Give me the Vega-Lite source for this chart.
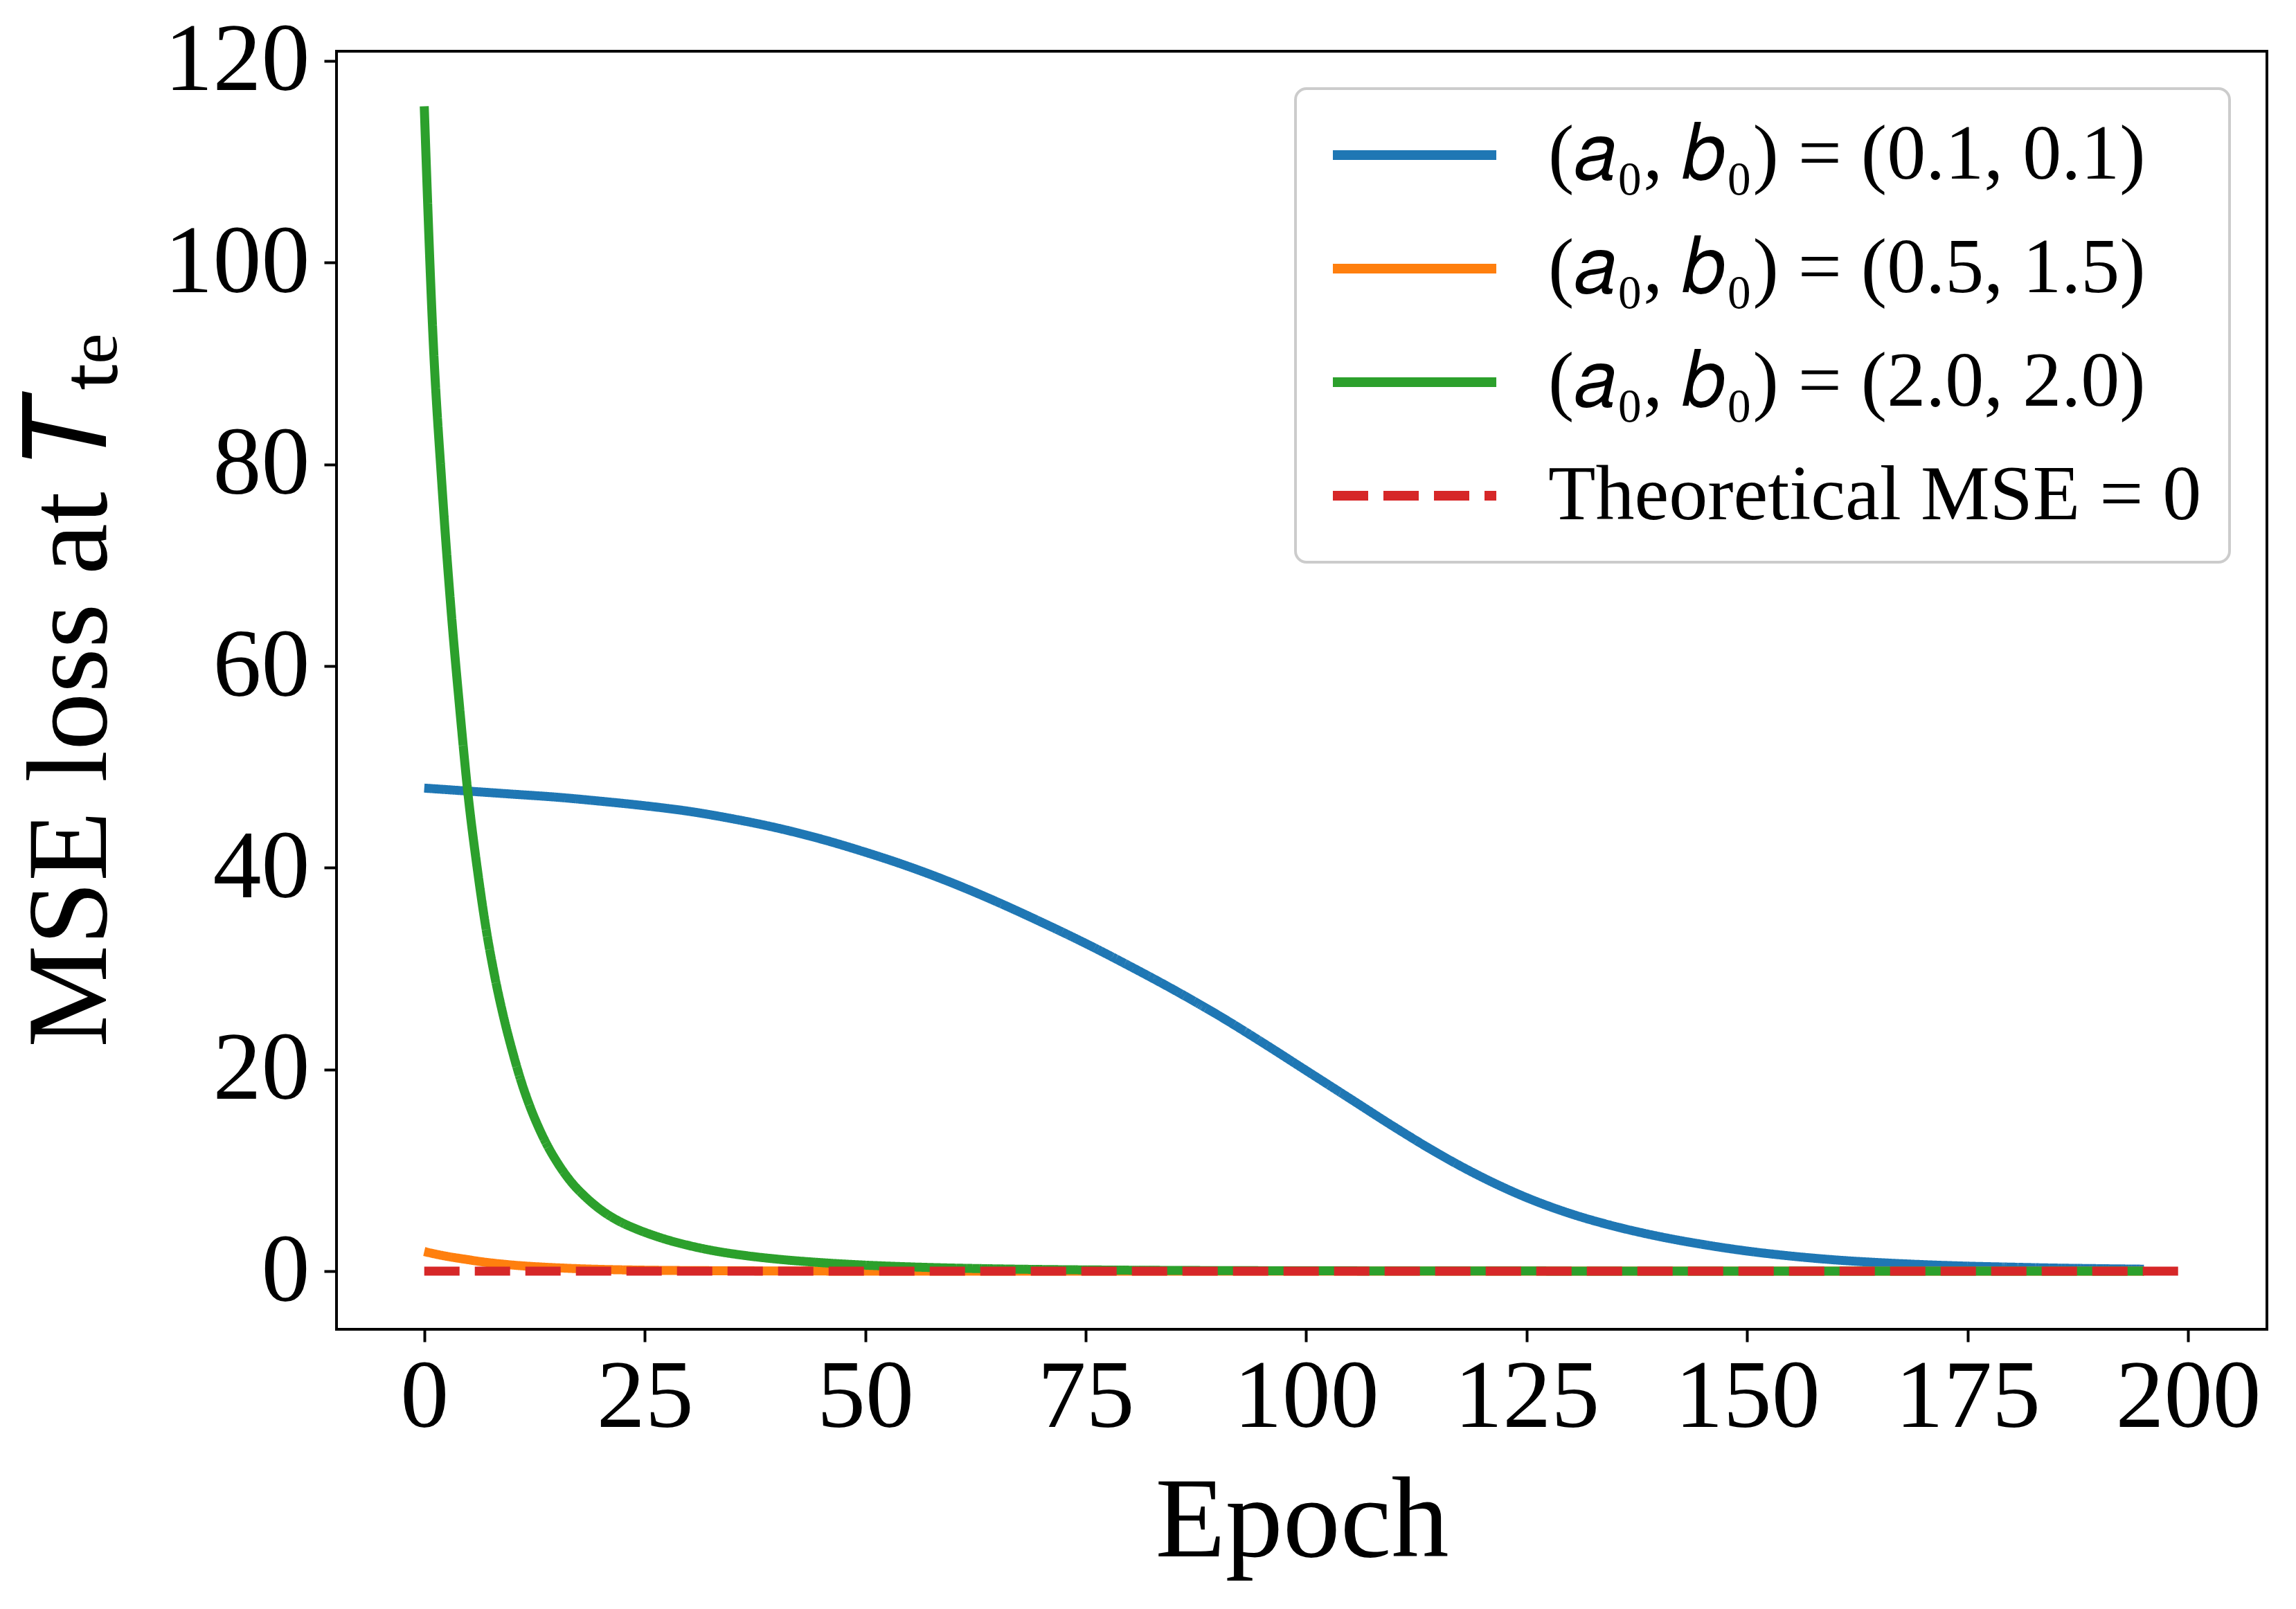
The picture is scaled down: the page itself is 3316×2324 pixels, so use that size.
{
  "$schema": "https://vega.github.io/schema/vega-lite/v6.json",
  "width": 2788,
  "height": 1846,
  "autosize": "none",
  "padding": {"left": 486, "top": 74, "right": 42, "bottom": 404},
  "background": "white",
  "data": {
    "values": [
      {"epoch": 0, "mse": 47.9, "series": "(𝑎₀, 𝑏₀) = (0.1, 0.1)"},
      {"epoch": 5, "mse": 47.6, "series": "(𝑎₀, 𝑏₀) = (0.1, 0.1)"},
      {"epoch": 10, "mse": 47.3, "series": "(𝑎₀, 𝑏₀) = (0.1, 0.1)"},
      {"epoch": 15, "mse": 47.0, "series": "(𝑎₀, 𝑏₀) = (0.1, 0.1)"},
      {"epoch": 20, "mse": 46.6, "series": "(𝑎₀, 𝑏₀) = (0.1, 0.1)"},
      {"epoch": 25, "mse": 46.15, "series": "(𝑎₀, 𝑏₀) = (0.1, 0.1)"},
      {"epoch": 30, "mse": 45.6, "series": "(𝑎₀, 𝑏₀) = (0.1, 0.1)"},
      {"epoch": 35, "mse": 44.85, "series": "(𝑎₀, 𝑏₀) = (0.1, 0.1)"},
      {"epoch": 40, "mse": 43.95, "series": "(𝑎₀, 𝑏₀) = (0.1, 0.1)"},
      {"epoch": 45, "mse": 42.85, "series": "(𝑎₀, 𝑏₀) = (0.1, 0.1)"},
      {"epoch": 50, "mse": 41.55, "series": "(𝑎₀, 𝑏₀) = (0.1, 0.1)"},
      {"epoch": 55, "mse": 40.1, "series": "(𝑎₀, 𝑏₀) = (0.1, 0.1)"},
      {"epoch": 60, "mse": 38.45, "series": "(𝑎₀, 𝑏₀) = (0.1, 0.1)"},
      {"epoch": 65, "mse": 36.6, "series": "(𝑎₀, 𝑏₀) = (0.1, 0.1)"},
      {"epoch": 70, "mse": 34.6, "series": "(𝑎₀, 𝑏₀) = (0.1, 0.1)"},
      {"epoch": 75, "mse": 32.5, "series": "(𝑎₀, 𝑏₀) = (0.1, 0.1)"},
      {"epoch": 80, "mse": 30.25, "series": "(𝑎₀, 𝑏₀) = (0.1, 0.1)"},
      {"epoch": 85, "mse": 27.9, "series": "(𝑎₀, 𝑏₀) = (0.1, 0.1)"},
      {"epoch": 90, "mse": 25.4, "series": "(𝑎₀, 𝑏₀) = (0.1, 0.1)"},
      {"epoch": 95, "mse": 22.7, "series": "(𝑎₀, 𝑏₀) = (0.1, 0.1)"},
      {"epoch": 100, "mse": 19.9, "series": "(𝑎₀, 𝑏₀) = (0.1, 0.1)"},
      {"epoch": 105, "mse": 17.1, "series": "(𝑎₀, 𝑏₀) = (0.1, 0.1)"},
      {"epoch": 110, "mse": 14.3, "series": "(𝑎₀, 𝑏₀) = (0.1, 0.1)"},
      {"epoch": 115, "mse": 11.65, "series": "(𝑎₀, 𝑏₀) = (0.1, 0.1)"},
      {"epoch": 120, "mse": 9.3, "series": "(𝑎₀, 𝑏₀) = (0.1, 0.1)"},
      {"epoch": 125, "mse": 7.3, "series": "(𝑎₀, 𝑏₀) = (0.1, 0.1)"},
      {"epoch": 130, "mse": 5.7, "series": "(𝑎₀, 𝑏₀) = (0.1, 0.1)"},
      {"epoch": 135, "mse": 4.45, "series": "(𝑎₀, 𝑏₀) = (0.1, 0.1)"},
      {"epoch": 140, "mse": 3.45, "series": "(𝑎₀, 𝑏₀) = (0.1, 0.1)"},
      {"epoch": 145, "mse": 2.65, "series": "(𝑎₀, 𝑏₀) = (0.1, 0.1)"},
      {"epoch": 150, "mse": 2.0, "series": "(𝑎₀, 𝑏₀) = (0.1, 0.1)"},
      {"epoch": 155, "mse": 1.5, "series": "(𝑎₀, 𝑏₀) = (0.1, 0.1)"},
      {"epoch": 160, "mse": 1.12, "series": "(𝑎₀, 𝑏₀) = (0.1, 0.1)"},
      {"epoch": 165, "mse": 0.85, "series": "(𝑎₀, 𝑏₀) = (0.1, 0.1)"},
      {"epoch": 170, "mse": 0.65, "series": "(𝑎₀, 𝑏₀) = (0.1, 0.1)"},
      {"epoch": 175, "mse": 0.5, "series": "(𝑎₀, 𝑏₀) = (0.1, 0.1)"},
      {"epoch": 180, "mse": 0.4, "series": "(𝑎₀, 𝑏₀) = (0.1, 0.1)"},
      {"epoch": 185, "mse": 0.31, "series": "(𝑎₀, 𝑏₀) = (0.1, 0.1)"},
      {"epoch": 190, "mse": 0.25, "series": "(𝑎₀, 𝑏₀) = (0.1, 0.1)"},
      {"epoch": 195, "mse": 0.2, "series": "(𝑎₀, 𝑏₀) = (0.1, 0.1)"},

      {"epoch": 0, "mse": 1.95, "series": "(𝑎₀, 𝑏₀) = (0.5, 1.5)"},
      {"epoch": 1, "mse": 1.75, "series": "(𝑎₀, 𝑏₀) = (0.5, 1.5)"},
      {"epoch": 2, "mse": 1.57, "series": "(𝑎₀, 𝑏₀) = (0.5, 1.5)"},
      {"epoch": 3, "mse": 1.41, "series": "(𝑎₀, 𝑏₀) = (0.5, 1.5)"},
      {"epoch": 4, "mse": 1.27, "series": "(𝑎₀, 𝑏₀) = (0.5, 1.5)"},
      {"epoch": 5, "mse": 1.14, "series": "(𝑎₀, 𝑏₀) = (0.5, 1.5)"},
      {"epoch": 6, "mse": 1.0, "series": "(𝑎₀, 𝑏₀) = (0.5, 1.5)"},
      {"epoch": 7, "mse": 0.88, "series": "(𝑎₀, 𝑏₀) = (0.5, 1.5)"},
      {"epoch": 8, "mse": 0.78, "series": "(𝑎₀, 𝑏₀) = (0.5, 1.5)"},
      {"epoch": 9, "mse": 0.69, "series": "(𝑎₀, 𝑏₀) = (0.5, 1.5)"},
      {"epoch": 10, "mse": 0.61, "series": "(𝑎₀, 𝑏₀) = (0.5, 1.5)"},
      {"epoch": 12, "mse": 0.48, "series": "(𝑎₀, 𝑏₀) = (0.5, 1.5)"},
      {"epoch": 14, "mse": 0.38, "series": "(𝑎₀, 𝑏₀) = (0.5, 1.5)"},
      {"epoch": 16, "mse": 0.3, "series": "(𝑎₀, 𝑏₀) = (0.5, 1.5)"},
      {"epoch": 18, "mse": 0.23, "series": "(𝑎₀, 𝑏₀) = (0.5, 1.5)"},
      {"epoch": 20, "mse": 0.18, "series": "(𝑎₀, 𝑏₀) = (0.5, 1.5)"},
      {"epoch": 25, "mse": 0.1, "series": "(𝑎₀, 𝑏₀) = (0.5, 1.5)"},
      {"epoch": 30, "mse": 0.06, "series": "(𝑎₀, 𝑏₀) = (0.5, 1.5)"},
      {"epoch": 35, "mse": 0.04, "series": "(𝑎₀, 𝑏₀) = (0.5, 1.5)"},
      {"epoch": 40, "mse": 0.025, "series": "(𝑎₀, 𝑏₀) = (0.5, 1.5)"},
      {"epoch": 50, "mse": 0.01, "series": "(𝑎₀, 𝑏₀) = (0.5, 1.5)"},
      {"epoch": 60, "mse": 0.005, "series": "(𝑎₀, 𝑏₀) = (0.5, 1.5)"},
      {"epoch": 80, "mse": 0, "series": "(𝑎₀, 𝑏₀) = (0.5, 1.5)"},
      {"epoch": 100, "mse": 0, "series": "(𝑎₀, 𝑏₀) = (0.5, 1.5)"},
      {"epoch": 125, "mse": 0, "series": "(𝑎₀, 𝑏₀) = (0.5, 1.5)"},
      {"epoch": 150, "mse": 0, "series": "(𝑎₀, 𝑏₀) = (0.5, 1.5)"},
      {"epoch": 175, "mse": 0, "series": "(𝑎₀, 𝑏₀) = (0.5, 1.5)"},
      {"epoch": 195, "mse": 0, "series": "(𝑎₀, 𝑏₀) = (0.5, 1.5)"},

      {"epoch": 0, "mse": 115.5, "series": "(𝑎₀, 𝑏₀) = (2.0, 2.0)"},
      {"epoch": 1, "mse": 92.5, "series": "(𝑎₀, 𝑏₀) = (2.0, 2.0)"},
      {"epoch": 2, "mse": 78.0, "series": "(𝑎₀, 𝑏₀) = (2.0, 2.0)"},
      {"epoch": 3, "mse": 66.0, "series": "(𝑎₀, 𝑏₀) = (2.0, 2.0)"},
      {"epoch": 4, "mse": 56.0, "series": "(𝑎₀, 𝑏₀) = (2.0, 2.0)"},
      {"epoch": 5, "mse": 47.0, "series": "(𝑎₀, 𝑏₀) = (2.0, 2.0)"},
      {"epoch": 6, "mse": 40.0, "series": "(𝑎₀, 𝑏₀) = (2.0, 2.0)"},
      {"epoch": 7, "mse": 34.0, "series": "(𝑎₀, 𝑏₀) = (2.0, 2.0)"},
      {"epoch": 8, "mse": 29.2, "series": "(𝑎₀, 𝑏₀) = (2.0, 2.0)"},
      {"epoch": 9, "mse": 25.2, "series": "(𝑎₀, 𝑏₀) = (2.0, 2.0)"},
      {"epoch": 10, "mse": 21.8, "series": "(𝑎₀, 𝑏₀) = (2.0, 2.0)"},
      {"epoch": 11, "mse": 18.8, "series": "(𝑎₀, 𝑏₀) = (2.0, 2.0)"},
      {"epoch": 12, "mse": 16.3, "series": "(𝑎₀, 𝑏₀) = (2.0, 2.0)"},
      {"epoch": 13, "mse": 14.2, "series": "(𝑎₀, 𝑏₀) = (2.0, 2.0)"},
      {"epoch": 14, "mse": 12.4, "series": "(𝑎₀, 𝑏₀) = (2.0, 2.0)"},
      {"epoch": 15, "mse": 10.9, "series": "(𝑎₀, 𝑏₀) = (2.0, 2.0)"},
      {"epoch": 16, "mse": 9.6, "series": "(𝑎₀, 𝑏₀) = (2.0, 2.0)"},
      {"epoch": 17, "mse": 8.5, "series": "(𝑎₀, 𝑏₀) = (2.0, 2.0)"},
      {"epoch": 18, "mse": 7.6, "series": "(𝑎₀, 𝑏₀) = (2.0, 2.0)"},
      {"epoch": 19, "mse": 6.8, "series": "(𝑎₀, 𝑏₀) = (2.0, 2.0)"},
      {"epoch": 20, "mse": 6.1, "series": "(𝑎₀, 𝑏₀) = (2.0, 2.0)"},
      {"epoch": 22, "mse": 5.0, "series": "(𝑎₀, 𝑏₀) = (2.0, 2.0)"},
      {"epoch": 24, "mse": 4.2, "series": "(𝑎₀, 𝑏₀) = (2.0, 2.0)"},
      {"epoch": 26, "mse": 3.55, "series": "(𝑎₀, 𝑏₀) = (2.0, 2.0)"},
      {"epoch": 28, "mse": 3.0, "series": "(𝑎₀, 𝑏₀) = (2.0, 2.0)"},
      {"epoch": 30, "mse": 2.55, "series": "(𝑎₀, 𝑏₀) = (2.0, 2.0)"},
      {"epoch": 33, "mse": 2.0, "series": "(𝑎₀, 𝑏₀) = (2.0, 2.0)"},
      {"epoch": 36, "mse": 1.6, "series": "(𝑎₀, 𝑏₀) = (2.0, 2.0)"},
      {"epoch": 40, "mse": 1.2, "series": "(𝑎₀, 𝑏₀) = (2.0, 2.0)"},
      {"epoch": 45, "mse": 0.85, "series": "(𝑎₀, 𝑏₀) = (2.0, 2.0)"},
      {"epoch": 50, "mse": 0.6, "series": "(𝑎₀, 𝑏₀) = (2.0, 2.0)"},
      {"epoch": 55, "mse": 0.43, "series": "(𝑎₀, 𝑏₀) = (2.0, 2.0)"},
      {"epoch": 60, "mse": 0.31, "series": "(𝑎₀, 𝑏₀) = (2.0, 2.0)"},
      {"epoch": 65, "mse": 0.23, "series": "(𝑎₀, 𝑏₀) = (2.0, 2.0)"},
      {"epoch": 70, "mse": 0.17, "series": "(𝑎₀, 𝑏₀) = (2.0, 2.0)"},
      {"epoch": 80, "mse": 0.1, "series": "(𝑎₀, 𝑏₀) = (2.0, 2.0)"},
      {"epoch": 90, "mse": 0.06, "series": "(𝑎₀, 𝑏₀) = (2.0, 2.0)"},
      {"epoch": 100, "mse": 0.04, "series": "(𝑎₀, 𝑏₀) = (2.0, 2.0)"},
      {"epoch": 120, "mse": 0.02, "series": "(𝑎₀, 𝑏₀) = (2.0, 2.0)"},
      {"epoch": 140, "mse": 0.01, "series": "(𝑎₀, 𝑏₀) = (2.0, 2.0)"},
      {"epoch": 160, "mse": 0.01, "series": "(𝑎₀, 𝑏₀) = (2.0, 2.0)"},
      {"epoch": 180, "mse": 0.005, "series": "(𝑎₀, 𝑏₀) = (2.0, 2.0)"},
      {"epoch": 195, "mse": 0, "series": "(𝑎₀, 𝑏₀) = (2.0, 2.0)"},

      {"epoch": 0, "mse": 0, "series": "Theoretical MSE = 0"},
      {"epoch": 199, "mse": 0, "series": "Theoretical MSE = 0"}
    ]
  },
  "mark": {"type": "line", "strokeWidth": 13, "interpolate": "monotone", "clip": true},
  "encoding": {
    "x": {
      "field": "epoch",
      "type": "quantitative",
      "title": "Epoch",
      "scale": {"domain": [-9.95, 208.95], "nice": false, "zero": false},
      "axis": {"values": [0, 25, 50, 75, 100, 125, 150, 175, 200], "labelPadding": 11, "titlePadding": 28}
    },
    "y": {
      "field": "mse",
      "type": "quantitative",
      "title": "MSE loss at 𝑇ₜₑ",
      "scale": {"domain": [-5.76, 120.96], "nice": false, "zero": false},
      "axis": {"values": [0, 20, 40, 60, 80, 100, 120], "labelPadding": 21, "titlePadding": 99}
    },
    "color": {
      "field": "series",
      "type": "nominal",
      "scale": {
        "domain": ["(𝑎₀, 𝑏₀) = (0.1, 0.1)", "(𝑎₀, 𝑏₀) = (0.5, 1.5)", "(𝑎₀, 𝑏₀) = (2.0, 2.0)", "Theoretical MSE = 0"],
        "range": ["#1f77b4", "#ff7f0e", "#2ca02c", "#d62728"]
      },
      "legend": {"title": null}
    },
    "strokeDash": {
      "field": "series",
      "type": "nominal",
      "scale": {
        "domain": ["(𝑎₀, 𝑏₀) = (0.1, 0.1)", "(𝑎₀, 𝑏₀) = (0.5, 1.5)", "(𝑎₀, 𝑏₀) = (2.0, 2.0)", "Theoretical MSE = 0"],
        "range": [[1, 0], [1, 0], [1, 0], [51, 22]]
      },
      "legend": {"title": null}
    }
  },
  "config": {
    "font": "Liberation Serif",
    "view": {"stroke": "black", "strokeWidth": 4},
    "axis": {
      "grid": false,
      "domain": false,
      "ticks": true,
      "tickColor": "black",
      "tickWidth": 4,
      "tickSize": 18,
      "labelFont": "Liberation Serif",
      "labelFontSize": 140,
      "labelColor": "black",
      "labelLimit": 1000,
      "titleFont": "Liberation Serif",
      "titleFontSize": 166,
      "titleFontWeight": "normal",
      "titleColor": "black",
      "titleLimit": 3000
    },
    "legend": {
      "orient": "top-right",
      "offset": 54,
      "padding": 40,
      "labelFont": "Liberation Serif",
      "labelFontSize": 112,
      "labelColor": "black",
      "labelOffset": 213,
      "labelLimit": 2000,
      "symbolType": "M-1,0H4.62",
      "symbolSize": 7056,
      "symbolStrokeWidth": 14,
      "rowPadding": 52,
      "strokeColor": "#cccccc",
      "strokeWidth": 4,
      "cornerRadius": 16,
      "fillColor": "white"
    }
  }
}
